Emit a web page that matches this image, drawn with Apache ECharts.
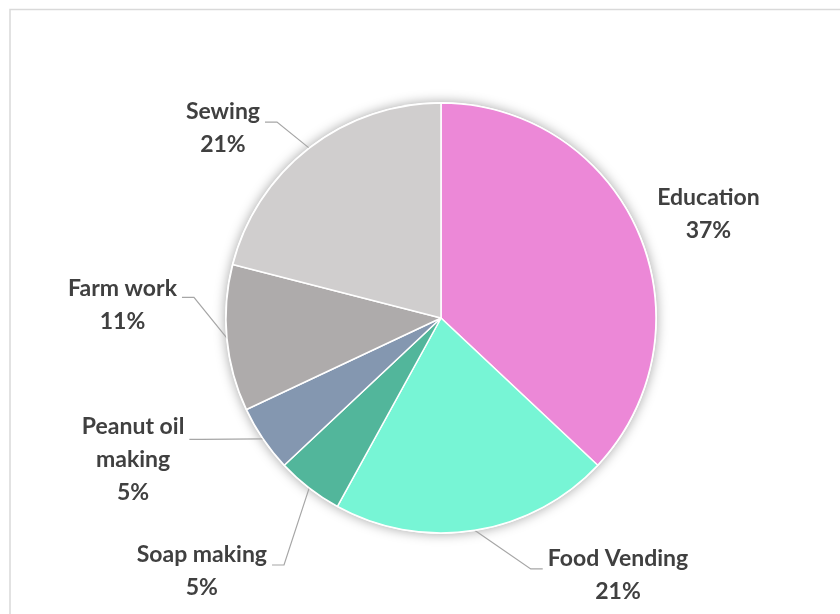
<!DOCTYPE html>
<html><head><meta charset="utf-8">
<script src="https://cdn.jsdelivr.net/npm/echarts@6/dist/echarts.min.js"></script>
<style>html,body{margin:0;padding:0;background:#fff}#c{width:840px;height:614px}</style>
</head><body><div id="c"></div>
<script>
// ---- data ----
const categories = ['Education', 'Food Vending', 'Soap making', 'Peanut oil\nmaking', 'Farm work', 'Sewing'];
const percentages = [37, 21, 5, 5, 11, 21];
const colors = ['#EC88D7', '#77F5D5', '#52B69B', '#8497B0', '#AEABAB', '#D0CECE'];

// ---- label leader styling (per slice) ----
const labelTweaks = [
  { show: false, len: 1,    len2: 13,    rise: 0,   pad: [0, 0, 36, 0] },
  { show: true,  len: 39,   len2: 62,    rise: 0,   pad: [12, 0, 0, 0] },
  { show: true,  len: 97.6, len2: -22.6, rise: 0,   pad: [12, 0, 0, 0] },
  { show: true,  len: 1,    len2: 73,    rise: 0,   pad: [41, 0, 0, 0] },
  { show: true,  len: 1,    len2: 44,    rise: -41, pad: [0, 0, 67, 0] },
  { show: true,  len: 33,   len2: 24,    rise: 0,   pad: [13, 0, 0, 0] }
];

const CENTER = [441, 318];
const R = 215;
const FONT = { color: '#404040', fontFamily: 'Lato', fontWeight: 'bold', fontSize: 23, lineHeight: 33 };

const pieData = categories.map((name, i) => ({
  name: name,
  value: percentages[i],
  itemStyle: { color: colors[i] },
  label: { padding: labelTweaks[i].pad },
  labelLine: { show: labelTweaks[i].show, length: labelTweaks[i].len, length2: labelTweaks[i].len2 }
}));

const chart = echarts.init(document.getElementById('c'), null, { renderer: 'canvas' });
chart.setOption({
  animation: false,
  backgroundColor: '#ffffff',
  graphic: [{
    type: 'rect', silent: true, z: 0,
    shape: { x: 10, y: 9.5, width: 900, height: 700 },
    style: { fill: 'none', stroke: '#D9D9D9', lineWidth: 1.5 }
  }],
  series: [
    {
      type: 'pie', silent: true, z: 1,
      center: CENTER, radius: R + 1,
      startAngle: 90,
      data: [{ value: 1, name: '' }],
      label: { show: false }, labelLine: { show: false },
      itemStyle: { color: '#ffffff', shadowBlur: 12, shadowColor: 'rgba(0,0,0,0.35)' },
      emphasis: { disabled: true }, tooltip: { show: false }
    },
    {
      type: 'pie', z: 2,
      center: CENTER, radius: R,
      startAngle: 90, clockwise: true,
      avoidLabelOverlap: false,
      percentPrecision: 0,
      data: pieData,
      itemStyle: { borderColor: '#ffffff', borderWidth: 1.5 },
      label: Object.assign({
        show: true, position: 'outside',
        distanceToLabelLine: 5,
        formatter: '{n|{b}}\n{n|{d}%}',
        rich: { n: Object.assign({ align: 'center' }, FONT) }
      }, FONT),
      labelLine: {
        smooth: false, minTurnAngle: 0, maxSurfaceAngle: 180,
        lineStyle: { color: '#A6A6A6', width: 1.2 }
      },
      labelLayout: function (p) {
        const t = labelTweaks[p.dataIndex];
        const pts = p.labelLinePoints;
        if (!pts || !t.show) return {};
        const sign = p.align === 'right' ? -1 : 1;
        const end = [pts[2][0], pts[2][1] + t.rise];
        const knee = [end[0] - sign * 12, end[1]];
        return { labelLinePoints: [[pts[0][0], pts[0][1]], knee, end] };
      },
      emphasis: { disabled: true }
    }
  ]
});
</script>
</body></html>
